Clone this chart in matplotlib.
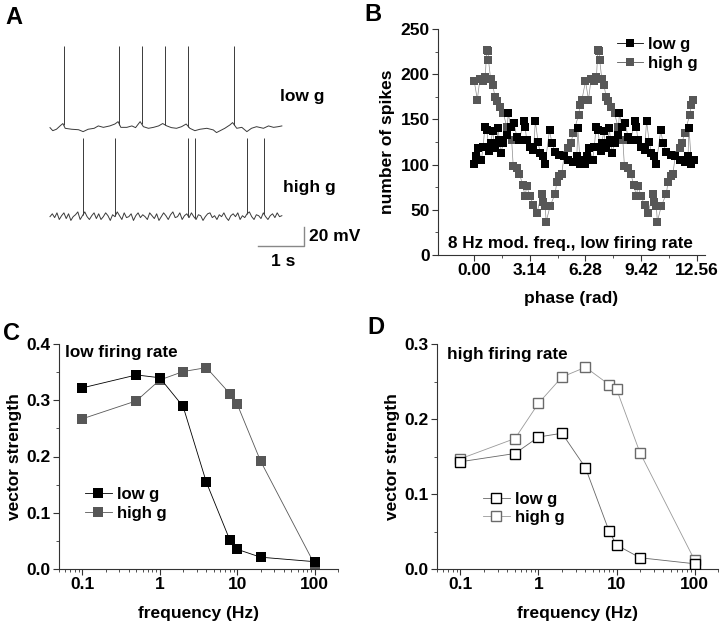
import matplotlib
matplotlib.use('Agg')
import matplotlib.pyplot as plt
import numpy as np
from matplotlib.ticker import MultipleLocator, FixedLocator, LogLocator, NullFormatter

plt.rcParams['font.family'] = ['Liberation Sans', 'DejaVu Sans']
plt.rcParams['font.weight'] = 'bold'
plt.rcParams['axes.labelweight'] = 'bold'

# ---- panel A: example voltage traces (time in s, voltage in mV) ----
lowg_t = [0.00, 0.06, 0.14, 0.23, 0.28, 0.33, 0.47, 0.62, 0.72, 0.83, 0.96, 1.05, 1.16,
          1.30, 1.41, 1.48, 1.54, 1.67, 1.78, 1.86, 1.92, 1.96, 2.03, 2.14, 2.25, 2.36,
          2.45, 2.54, 2.64, 2.75, 2.86, 2.96, 3.04, 3.15, 3.26, 3.41, 3.55, 3.62, 3.70,
          3.80, 3.91, 3.97, 4.06, 4.17, 4.28, 4.38, 4.49, 4.64, 4.75, 4.86, 4.96, 5.04]
lowg_v = [0.7, -2.5, -1.0, 3.0, 5.0, 0.0, -1.0, -1.5, -3.5, -1.0, 0.0, 2.5, 1.0,
          2.5, 4.5, 7.0, 1.0, 1.0, 2.5, 0.7, 4.5, 7.0, 1.7, 0.0, 1.0, 2.5,
          5.0, 2.5, 0.7, 0.0, 1.7, 4.5, 0.0, -2.5, -1.0, 0.0, -1.7, -4.5, -2.5,
          0.0, 3.5, 6.0, 0.0, 1.0, -3.5, 0.0, 1.7, 0.0, 2.5, 1.0, 1.7, 2.5]
lowg_spikes = [0.30, 1.51, 1.99, 2.49, 3.01, 4.00]

highg_v = [0, 3, -1, 4, -3, 1, 4, -2, 3, -4, 0, 2, 5, -3, 1, 5, 0, -3, 1, 4,
           -2, 3, -3, 0, 4, 1, -4, 2, 0, 5, 1, -3, 4, -1, 0, 3, -4, 1, 4, -1,
           2, 0, -3, 4, 1, -2, 3, -4, 0, 4, 1, -3, 2, 5, -1, 0, 4, -3, 1, 3,
           -1, 4, 0, -3, 2, 1, -4, 0, 3, 4, -1, 1, -3, 2, 0, 4, -1, -4, 1, 3,
           0, 4, -3, 1, -1, 3, 5, 0, -3, 2, 1, -2, 4, 0, -3, 1, 3, -1, 4, 0, 1]
highg_spikes = [0.72, 1.42, 3.01, 3.15, 4.29, 4.65]

lowg_peak = 86.7
highg_offset = -93.0
highg_peak = -10.5

# ---- panel B: spike count vs phase (same cycle plotted twice) ----
lowg_phase_cycle = [0.00, 0.10, 0.22, 0.40, 0.50, 0.60, 0.70, 0.85, 0.92, 1.04, 1.15, 1.26,
                    1.35, 1.41, 1.50, 1.64, 1.83, 1.92, 2.05, 2.24, 2.40, 2.55, 2.78, 2.87,
                    2.96, 3.15, 3.34, 3.45, 3.60, 3.72, 3.87, 4.00, 4.25, 4.38, 4.57, 4.81,
                    5.04, 5.32, 5.60, 5.79, 5.85, 5.98, 6.13]
lowg_count_cycle = [101, 109, 118, 105, 120, 142, 138, 115, 124, 137, 118, 124,
                    140, 127, 113, 124, 133, 157, 142, 146, 131, 127, 148, 142,
                    127, 120, 116, 148, 125, 113, 109, 101, 138, 124, 114, 111,
                    109, 105, 103, 109, 140, 101, 105]
highg_phase_cycle = [0.00, 0.17, 0.32, 0.50, 0.62, 0.70, 0.78, 0.80, 0.92, 1.04, 1.17, 1.26,
                     1.45, 1.64, 1.83, 2.11, 2.20, 2.40, 2.55, 2.74, 2.87, 2.96, 3.15, 3.34,
                     3.53, 3.81, 3.87, 4.00, 4.06, 4.28, 4.57, 4.66, 4.81, 4.94, 5.08, 5.32,
                     5.45, 5.60, 5.89, 5.98, 6.08]
highg_count_cycle = [192, 172, 195, 193, 197, 227, 226, 216, 195, 188, 175, 170,
                     164, 157, 142, 127, 98, 96, 90, 77, 65, 76, 65, 55,
                     46, 68, 59, 54, 37, 54, 68, 81, 87, 90, 111, 118,
                     124, 135, 155, 166, 172]
lowg_phase = lowg_phase_cycle + [p + 6.28 for p in lowg_phase_cycle]
lowg_count = lowg_count_cycle * 2
highg_phase = highg_phase_cycle + [p + 6.28 for p in highg_phase_cycle]
highg_count = highg_count_cycle * 2
phase_ticks = [0.00, 3.14, 6.28, 9.42, 12.56]

# ---- panels C, D: vector strength vs modulation frequency ----
freq = [0.1, 0.5, 1, 2, 4, 8, 10, 20, 100]
vs_low_rate_lowg = [0.322, 0.345, 0.340, 0.289, 0.154, 0.052, 0.035, 0.021, 0.013]
vs_low_rate_highg = [0.267, 0.299, 0.336, 0.351, 0.358, 0.312, 0.293, 0.192, 0.008]
vs_high_rate_lowg = [0.143, 0.154, 0.176, 0.181, 0.135, 0.051, 0.032, 0.015, 0.007]
vs_high_rate_highg = [0.147, 0.174, 0.221, 0.256, 0.269, 0.246, 0.240, 0.155, 0.012]

W, H = 720, 624
fig = plt.figure(figsize=(7.2, 6.24), dpi=100)

def px_axes(left, top, right, bottom):
    return fig.add_axes([left / W, 1 - bottom / H, (right - left) / W, (bottom - top) / H])

def style_axes(ax):
    for s in ['top', 'right']:
        ax.spines[s].set_visible(False)
    for s in ['left', 'bottom']:
        ax.spines[s].set_linewidth(0.8)
        ax.spines[s].set_color('#333333')
    ax.tick_params(which='major', direction='out', length=4, width=0.8,
                   color='#333333', labelsize=12.5, pad=2)
    ax.tick_params(which='minor', direction='out', length=2, width=0.6, color='#333333')
    for lab in ax.get_xticklabels() + ax.get_yticklabels():
        lab.set_fontweight('bold')

trace_col = '#3a3a3a'
grey = '#575757'
line_grey = '#8a8a8a'
legend_font = {'size': 12, 'weight': 'bold'}

# ----- A -----
axA = px_axes(40, 30, 360, 290)
axA.set_xlim(-10 / 46, 310 / 46)
axA.set_ylim(-(290 - 128.3) / 0.95, (128.3 - 30) / 0.95)
axA.axis('off')
axA.plot(lowg_t, lowg_v, color=trace_col, lw=0.7)
axA.vlines(lowg_spikes, np.interp(lowg_spikes, lowg_t, lowg_v), lowg_peak,
           color=trace_col, lw=0.7)
hg_t = np.linspace(0, 5.04, len(highg_v))
hg_v = np.array(highg_v) + highg_offset
axA.plot(hg_t, hg_v, color=trace_col, lw=0.7)
axA.vlines(highg_spikes, np.interp(highg_spikes, hg_t, hg_v), highg_peak,
           color=trace_col, lw=0.7)
axA.plot([4.52, 5.52, 5.52], [-123.9, -123.9, -103.9], color='#888888', lw=1)
axA.text(5.63, -113.5, '20 mV', fontsize=12.5, fontweight='bold', va='center', ha='left')
axA.text(5.07, -140, '1 s', fontsize=12.5, fontweight='bold', va='center', ha='center')
axA.text(5.48, 33, 'low g', fontsize=12.5, fontweight='bold', va='center', ha='center')
axA.text(5.63, -62, 'high g', fontsize=12.5, fontweight='bold', va='center', ha='center')

# ----- B -----
axB = px_axes(438, 29, 705, 255)
axB.plot(lowg_phase, lowg_count, '-', color=line_grey, lw=0.5, zorder=1)
axB.plot(highg_phase, highg_count, '-', color=line_grey, lw=0.5, zorder=1)
axB.plot(highg_phase, highg_count, 's', color=grey, ms=6.3, mew=0, zorder=2)
axB.plot(lowg_phase, lowg_count, 's', color='black', ms=6.3, mew=0, zorder=3)
hB1, = axB.plot([], [], 's-', color='black', ms=6.3, mew=0, lw=0.6)
hB2, = axB.plot([], [], 's-', color=grey, ms=6.3, mew=0, lw=0.6)
axB.set_xlim(-2.05, 13.03)
axB.set_ylim(0, 250)
axB.set_xticks(phase_ticks)
axB.set_xticklabels(['%.2f' % p for p in phase_ticks])
axB.xaxis.set_minor_locator(FixedLocator([1.57, 4.71, 7.85, 10.99]))
axB.yaxis.set_major_locator(MultipleLocator(50))
axB.yaxis.set_minor_locator(MultipleLocator(25))
axB.set_xlabel('phase (rad)', fontsize=12.5, labelpad=9)
axB.set_ylabel('number of spikes', fontsize=12.5, labelpad=4)
axB.text(0.037, 0.053, '8 Hz mod. freq., low firing rate', transform=axB.transAxes,
         fontsize=12.3, fontweight='bold', va='center', ha='left')
axB.legend([hB1, hB2], ['low g', 'high g'], loc='upper right', bbox_to_anchor=(1.03, 1.03),
           frameon=False, handlelength=1.6, handletextpad=0.3, labelspacing=0.2,
           prop=legend_font)
style_axes(axB)

# ----- C -----
axC = px_axes(59, 344, 338, 569)
axC.plot(freq, vs_low_rate_lowg, 's-', color='black', ms=7.5, mew=0, lw=0.6,
         label='low g', zorder=3)
axC.plot(freq, vs_low_rate_highg, 's-', color=grey, ms=7.5, mew=0, lw=0.6,
         label='high g', zorder=2)
axC.set_xscale('log')
axC.set_xlim(0.05, 200)
axC.set_ylim(0, 0.4)
axC.set_xticks([0.1, 1, 10, 100])
axC.set_xticklabels(['0.1', '1', '10', '100'])
axC.xaxis.set_minor_locator(LogLocator(base=10, subs=np.arange(2, 10)))
axC.xaxis.set_minor_formatter(NullFormatter())
axC.yaxis.set_major_locator(MultipleLocator(0.1))
axC.yaxis.set_minor_locator(MultipleLocator(0.05))
axC.yaxis.set_major_formatter(plt.FormatStrFormatter('%.1f'))
axC.set_xlabel('frequency (Hz)', fontsize=12.5, labelpad=10)
axC.set_ylabel('vector strength', fontsize=12.5, labelpad=3)
axC.text(0.02, 0.96, 'low firing rate', transform=axC.transAxes,
         fontsize=12.3, fontweight='bold', va='center', ha='left')
axC.legend(loc='upper left', bbox_to_anchor=(0.04, 0.43), frameon=False,
           handlelength=1.6, handletextpad=0.3, labelspacing=0.2, prop=legend_font)
style_axes(axC)

# ----- D -----
axD = px_axes(437, 344, 718, 569)
axD.plot(freq, vs_high_rate_lowg, 's-', color='#666666', mfc='white', mec='black',
         ms=7, mew=1.0, lw=0.6, label='low g', zorder=3)
axD.plot(freq, vs_high_rate_highg, 's-', color='#999999', mfc='white', mec='#6a6a6a',
         ms=7, mew=1.0, lw=0.6, label='high g', zorder=2)
axD.set_xscale('log')
axD.set_xlim(0.05, 200)
axD.set_ylim(0, 0.3)
axD.set_xticks([0.1, 1, 10, 100])
axD.set_xticklabels(['0.1', '1', '10', '100'])
axD.xaxis.set_minor_locator(LogLocator(base=10, subs=np.arange(2, 10)))
axD.xaxis.set_minor_formatter(NullFormatter())
axD.yaxis.set_major_locator(MultipleLocator(0.1))
axD.yaxis.set_minor_locator(MultipleLocator(0.05))
axD.yaxis.set_major_formatter(plt.FormatStrFormatter('%.1f'))
axD.set_xlabel('frequency (Hz)', fontsize=12.5, labelpad=10)
axD.set_ylabel('vector strength', fontsize=12.5, labelpad=3)
axD.text(0.036, 0.955, 'high firing rate', transform=axD.transAxes,
         fontsize=12.3, fontweight='bold', va='center', ha='left')
axD.legend(loc='upper left', bbox_to_anchor=(0.11, 0.41), frameon=False,
           handlelength=1.6, handletextpad=0.3, labelspacing=0.2, prop=legend_font)
style_axes(axD)

# panel letters
for letter, x, y in [('A', 5, 6), ('B', 364, 3), ('C', 3, 322), ('D', 367, 316)]:
    fig.text(x / W, 1 - y / H, letter, fontsize=17, fontweight='bold', va='top', ha='left')

fig.savefig('out.png', dpi=100)
